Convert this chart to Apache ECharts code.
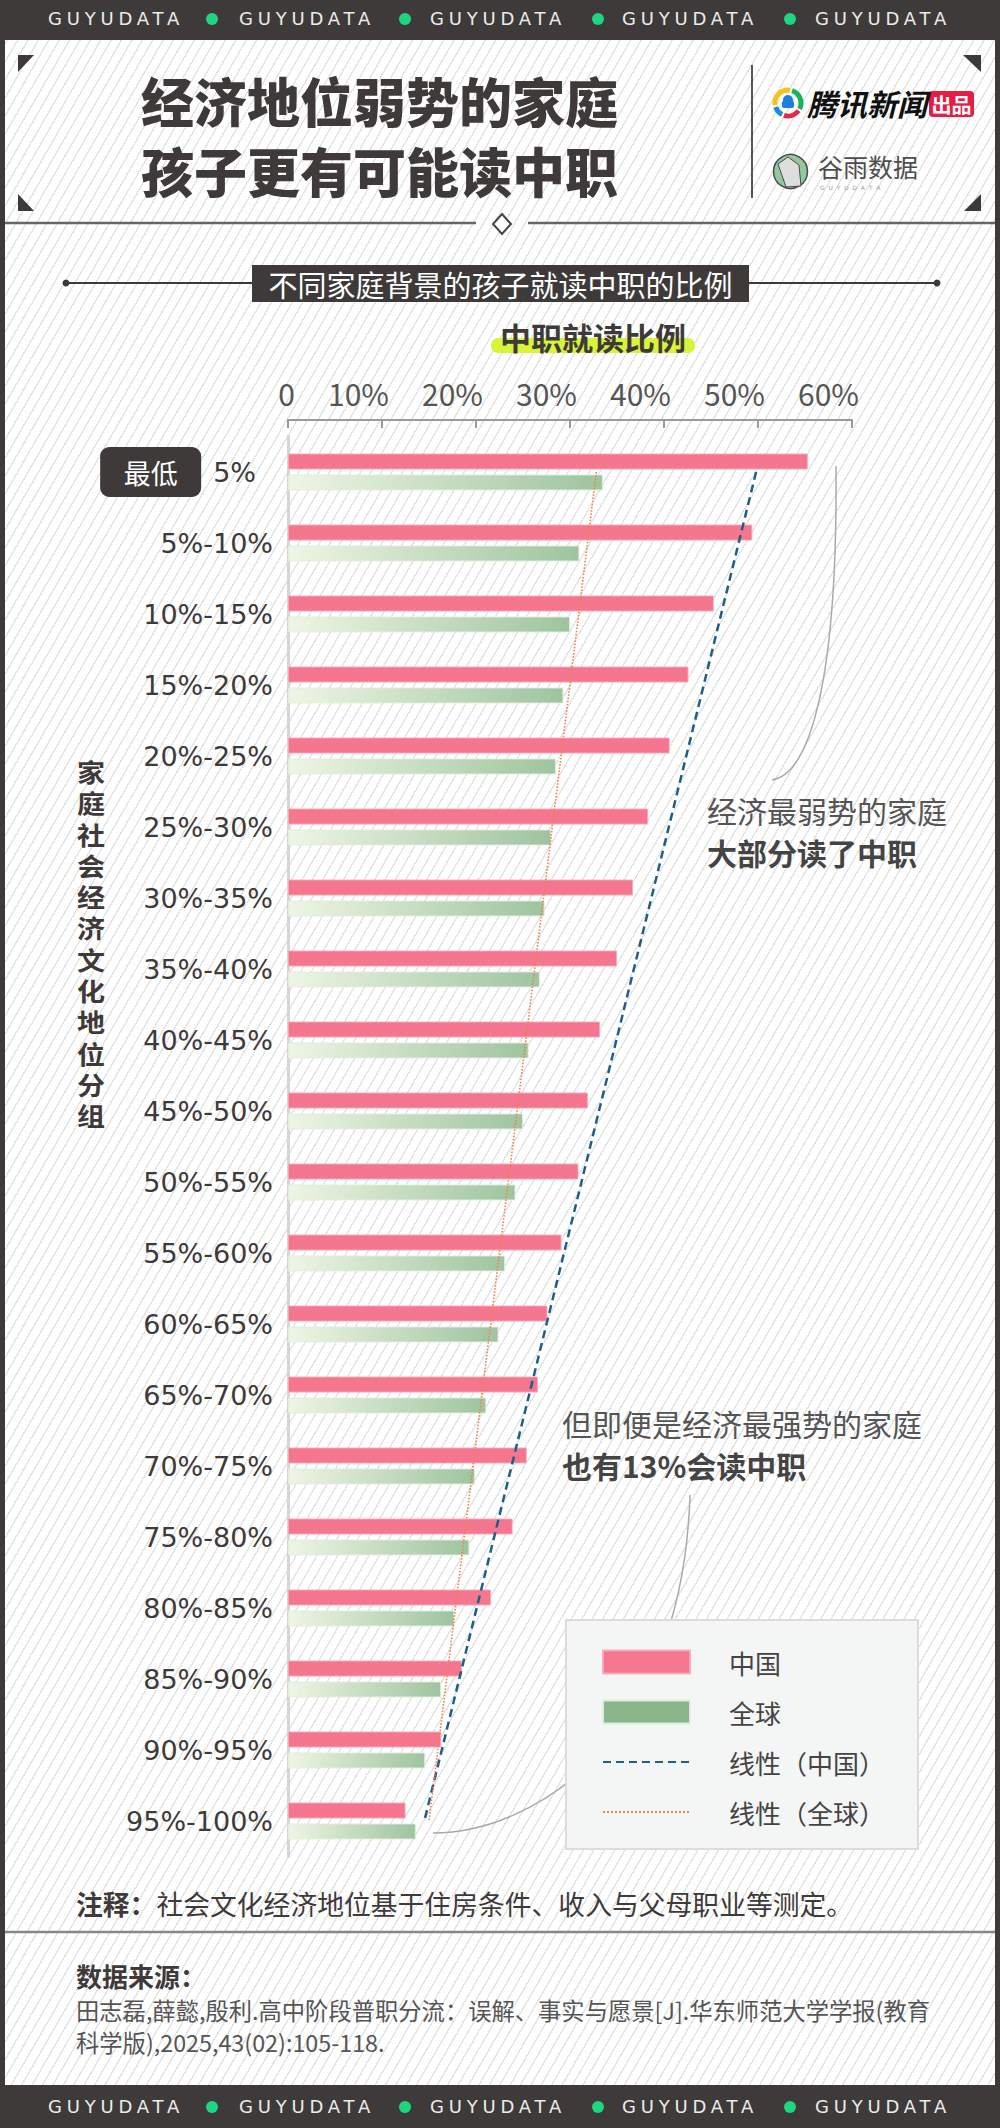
<!DOCTYPE html>
<html>
<head>
<meta charset="utf-8">
<title>经济地位弱势的家庭孩子更有可能读中职</title>
<script src="https://cdn.jsdelivr.net/npm/echarts@6/dist/echarts.min.js"></script>
<style>
  body { margin: 0; }
  #page {
    position: relative; width: 1000px; height: 2128px; overflow: hidden;
    background: repeating-linear-gradient(120deg, #ffffff 0px, #ffffff 7.6px, #e3e3e3 7.6px, #e3e3e3 9px);
  }
  #main { position: absolute; left: 0; top: 0; width: 1000px; height: 2128px; }
  .band { position: absolute; left: 0; width: 1000px; background: #3e3a39; }
  .band span.t {
    position: absolute; font-family: "DejaVu Sans", sans-serif; font-size: 18px;
    letter-spacing: 4.8px; color: #ececec; line-height: 18px;
  }
  .band span.d {
    position: absolute; width: 12px; height: 12px; border-radius: 6px; background: #1fd680;
  }
</style>
</head>
<body>
<div id="page">
  <div id="main"></div>
  <div class="band" id="topBand" style="top:0;height:40px"></div>
  <div class="band" id="bottomBand" style="top:2085px;height:43px"></div>
</div>
<script type="text/javascript">
// 数据
var categories = ['5%', '5%-10%', '10%-15%', '15%-20%', '20%-25%', '25%-30%', '30%-35%', '35%-40%',
  '40%-45%', '45%-50%', '50%-55%', '55%-60%', '60%-65%', '65%-70%', '70%-75%', '75%-80%',
  '80%-85%', '85%-90%', '90%-95%', '95%-100%'];
var chinaValues = [55.3, 49.4, 45.3, 42.6, 40.6, 38.3, 36.7, 35.0, 33.2, 31.9,
  30.9, 29.1, 27.6, 26.6, 25.4, 23.9, 21.6, 18.5, 16.3, 12.5];
var globalValues = [33.5, 31.0, 30.0, 29.3, 28.5, 28.0, 27.3, 26.8, 25.6, 25.0,
  24.2, 23.1, 22.4, 21.1, 19.9, 19.3, 17.7, 16.3, 14.6, 13.6];
// 趋势线两端（首尾分组处的取值）
var chinaTrend = [49.8, 14.5];
var globalTrend = [32.8, 15.0];
var seriesNames = ['中国', '全球', '线性（中国）', '线性（全球）'];

var CJK = 'Noto Sans CJK SC';
var DARK = '#3e3a39';

// 顶部/底部 GUYUDATA 条
function fillBand(el, top) {
  var starts = [48, 239, 430, 622, 815];
  var dots = [212, 405, 598, 790];
  var html = '';
  starts.forEach(function (x) {
    html += '<span class="t" style="left:' + x + 'px;top:' + top + 'px">GUYUDATA</span>';
  });
  dots.forEach(function (x) {
    html += '<span class="d" style="left:' + (x - 6) + 'px;top:' + (top + 3) + 'px"></span>';
  });
  el.innerHTML = html;
}
fillBand(document.getElementById('topBand'), 10);
fillBand(document.getElementById('bottomBand'), 13);

function txt(x, y, text, size, opts) {
  opts = opts || {};
  return {
    type: 'text', x: x, y: y, z: opts.z || 10, scaleX: opts.scaleX || 1,
    style: {
      text: text, fontSize: size, fontFamily: opts.family || CJK,
      fontWeight: opts.weight || 'normal', fontStyle: opts.style || 'normal',
      fill: opts.color || DARK,
      align: opts.align || 'left', textAlign: opts.align || 'left',
      verticalAlign: 'middle', textVerticalAlign: 'middle'
    }
  };
}

// 纵轴名：逐字竖排
var yNameChars = '家庭社会经济文化地位分组'.split('');
var yNameTexts = yNameChars.map(function (c, i) {
  return txt(91, 771 + i * 31.3, c, 25.5, { weight: 'bold', align: 'center', scaleX: 1.1 });
});

var graphics = [
  // 外框
  { type: 'rect', shape: { x: 0, y: 40, width: 5, height: 2045 }, style: { fill: DARK } },
  { type: 'rect', shape: { x: 995, y: 40, width: 5, height: 2045 }, style: { fill: DARK } },
  // 角标
  { type: 'polygon', shape: { points: [[18, 55], [34, 55], [18, 72]] }, style: { fill: DARK } },
  { type: 'polygon', shape: { points: [[963, 55], [981, 55], [981, 72]] }, style: { fill: DARK } },
  { type: 'polygon', shape: { points: [[18, 194], [18, 211], [34, 211]] }, style: { fill: DARK } },
  { type: 'polygon', shape: { points: [[981, 194], [981, 211], [964, 211]] }, style: { fill: DARK } },
  // 标题
  txt(141, 100, '经济地位弱势的家庭', 53, { weight: 900 }),
  txt(141, 170, '孩子更有可能读中职', 53, { weight: 900 }),
  { type: 'line', shape: { x1: 752, y1: 65, x2: 752, y2: 198 }, style: { stroke: '#555', lineWidth: 2 } },
  // 腾讯新闻 logo
  { type: 'arc', shape: { cx: 788, cy: 103, r: 13, startAngle: Math.PI * 0.95, endAngle: Math.PI * 1.55 }, style: { stroke: '#f6c21c', lineWidth: 5, fill: 'none' } },
  { type: 'arc', shape: { cx: 788, cy: 103, r: 13, startAngle: Math.PI * 1.6, endAngle: Math.PI * 2.15 }, style: { stroke: '#19b35a', lineWidth: 5, fill: 'none' } },
  { type: 'arc', shape: { cx: 788, cy: 103, r: 13, startAngle: Math.PI * 0.2, endAngle: Math.PI * 0.6 }, style: { stroke: '#e8284b', lineWidth: 5, fill: 'none' } },
  { type: 'arc', shape: { cx: 788, cy: 103, r: 13, startAngle: Math.PI * 0.65, endAngle: Math.PI * 0.9 }, style: { stroke: '#1b8be0', lineWidth: 5, fill: 'none' } },
  { type: 'circle', shape: { cx: 788, cy: 100, r: 5 }, style: { fill: '#1b7fe0' } },
  { type: 'rect', shape: { x: 782, y: 101, width: 12, height: 7, r: 2 }, style: { fill: '#1b7fe0' } },
  txt(807, 103, '腾讯新闻', 30, { weight: 'bold', style: 'italic', color: '#111' }),
  { type: 'rect', shape: { x: 929, y: 91, width: 45, height: 26, r: 4 }, style: { fill: '#e61e43' } },
  txt(951.5, 104, '出品', 20, { weight: 'bold', color: '#fff', align: 'center' }),
  // 谷雨数据 logo
  { type: 'circle', shape: { cx: 790.5, cy: 171.5, r: 17 }, style: { fill: '#93c89e', stroke: '#4a4a4a', lineWidth: 1.5 } },
  { type: 'polygon', shape: { points: [[778, 164], [788, 157], [799, 165], [801, 186], [786, 187]] }, style: { fill: '#dedede', stroke: '#4a4a4a', lineWidth: 1 } },
  txt(818, 166, '谷雨数据', 25, { color: '#4d4d4d' }),
  txt(820, 187, 'G  U  Y  U  D  A  T  A', 6, { color: '#999', family: 'DejaVu Sans' }),
  // 标题区下沿
  { type: 'line', shape: { x1: 5, y1: 223, x2: 476, y2: 223 }, style: { stroke: '#666', lineWidth: 2.5 } },
  { type: 'line', shape: { x1: 528, y1: 223, x2: 995, y2: 223 }, style: { stroke: '#666', lineWidth: 2.5 } },
  { type: 'polygon', shape: { points: [[502, 214], [511, 224], [502, 234], [493, 224]] }, style: { fill: '#fff', stroke: '#444', lineWidth: 2 } },
  // 副标题
  { type: 'line', shape: { x1: 66, y1: 283, x2: 937, y2: 283 }, style: { stroke: DARK, lineWidth: 2 } },
  { type: 'circle', shape: { cx: 66, cy: 283, r: 3.5 }, style: { fill: DARK } },
  { type: 'circle', shape: { cx: 937, cy: 283, r: 3.5 }, style: { fill: DARK } },
  { type: 'rect', shape: { x: 252, y: 265, width: 497, height: 37 }, style: { fill: DARK } },
  txt(500.5, 283.5, '不同家庭背景的孩子就读中职的比例', 29, { color: '#fff', align: 'center' }),
  // 坐标轴标题
  { type: 'rect', shape: { x: 491, y: 338, width: 204, height: 15, r: 7 }, style: { fill: '#d9f23a' } },
  txt(593, 336, '中职就读比例', 31, { weight: 'bold', align: 'center' }),
  // 注释曲线与文字
  { type: 'bezierCurve', z: 0, shape: { x1: 836, y1: 466, cpx1: 838, cpy1: 700, cpx2: 805, cpy2: 775, x2: 772, y2: 780 }, style: { stroke: '#aaa', lineWidth: 1.5, fill: 'none' } },
  txt(707, 810, '经济最弱势的家庭', 30, { color: '#555' }),
  txt(707, 852, '大部分读了中职', 30, { weight: 'bold', color: '#444' }),
  { type: 'bezierCurve', z: 0, shape: { x1: 690, y1: 1495, cpx1: 682, cpy1: 1745, cpx2: 530, cpy2: 1833, x2: 433, y2: 1833 }, style: { stroke: '#aaa', lineWidth: 1.5, fill: 'none' } },
  txt(562, 1423, '但即便是经济最强势的家庭', 30, { color: '#555' }),
  txt(562, 1465, '也有13%会读中职', 30, { weight: 'bold', color: '#444' }),
  // 脚注
  txt(76, 1903, '注释：', 26.8, { weight: 'bold' }),
  txt(156.4, 1903, '社会文化经济地位基于住房条件、收入与父母职业等测定。', 26.8),
  { type: 'line', shape: { x1: 5, y1: 1932, x2: 995, y2: 1932 }, style: { stroke: '#888', lineWidth: 2.5 } },
  txt(76, 1975, '数据来源：', 26, { weight: 'bold' }),
  txt(76, 2010, '田志磊,薛懿,殷利.高中阶段普职分流：误解、事实与愿景[J].华东师范大学学报(教育', 23.3, { color: '#555' }),
  txt(76, 2042, '科学版),2025,43(02):105-118.', 23.3, { color: '#555' })
].concat(yNameTexts);

var myChart = echarts.init(document.getElementById('main'), null, { renderer: 'svg' });

myChart.setOption({
  backgroundColor: 'transparent',
  animation: false,
  grid: { left: 288, right: 148, top: 436.5, bottom: 271.5, containLabel: false },
  legend: {
    orient: 'vertical', left: 566, top: 1620,
    backgroundColor: '#f4f6f5', borderColor: '#dcdcdc', borderWidth: 2,
    padding: [29, 33, 24, 36], itemWidth: 87, itemHeight: 23, itemGap: 24,
    textStyle: { fontSize: 26, color: '#444', fontFamily: CJK, padding: [0, 0, 0, 34] },
    data: [
      { name: seriesNames[0], icon: 'rect' },
      { name: seriesNames[1], icon: 'rect', itemStyle: { color: '#80b180' } },
      { name: seriesNames[2], itemStyle: { opacity: 0 } },
      { name: seriesNames[3], itemStyle: { opacity: 0 } }
    ]
  },
  xAxis: {
    type: 'value', position: 'top', offset: 16.5,
    min: 0, max: 60, interval: 10,
    axisLine: { show: true, lineStyle: { color: '#9a9a9a', width: 2 } },
    axisTick: { show: true, inside: true, length: 8, lineStyle: { color: '#9a9a9a', width: 2 } },
    splitLine: { show: false },
    axisLabel: {
      formatter: function (v) { return v === 0 ? '0' : v + '%'; },
      fontSize: 30, color: '#555', fontFamily: CJK, margin: 12,
      align: 'right', padding: [0, -7, 0, 0]
    }
  },
  yAxis: {
    type: 'category', inverse: true, data: categories,
    axisLine: { show: true, lineStyle: { color: '#d6d6d6', width: 3 } },
    axisTick: { show: false },
    axisLabel: {
      fontSize: 27, fontFamily: 'DejaVu Sans', color: DARK, margin: 15,
      formatter: function (v, i) {
        return i === 0 ? '{badge|最低}{first|' + v + '}' : v;
      },
      rich: {
        badge: {
          backgroundColor: DARK, color: '#fff', borderRadius: 9, width: 101, height: 50,
          align: 'center', fontSize: 27, fontFamily: CJK
        },
        first: { fontSize: 27, fontFamily: 'DejaVu Sans', color: DARK, padding: [0, 17, 0, 12] }
      }
    }
  },
  series: [
    {
      name: seriesNames[0], type: 'bar', data: chinaValues,
      barWidth: 16, barGap: '31%',
      itemStyle: { color: '#f36c86', borderColor: '#f8a9b7', borderWidth: 1, opacity: 0.93 }
    },
    {
      name: seriesNames[1], type: 'bar', data: globalValues,
      barWidth: 16,
      itemStyle: {
        color: new echarts.graphic.LinearGradient(0, 0, 1, 0, [
          { offset: 0, color: '#eef5e3' },
          { offset: 1, color: '#97c098' }
        ]),
        borderColor: '#e2eedb', borderWidth: 1, opacity: 0.93
      }
    },
    {
      name: seriesNames[2], type: 'line', symbol: 'none', z: 5,
      data: [[chinaTrend[0], categories[0]], [chinaTrend[1], categories[categories.length - 1]]],
      lineStyle: { color: '#1d5f89', width: 2.5, type: [8, 5] }, itemStyle: { color: '#1d5f89' }
    },
    {
      name: seriesNames[3], type: 'line', symbol: 'none', z: 5,
      data: [[globalTrend[0], categories[0]], [globalTrend[1], categories[categories.length - 1]]],
      lineStyle: { color: '#f0804f', width: 1.6, type: 'dotted' }, itemStyle: { color: '#f0804f' }
    }
  ],
  graphic: { elements: graphics }
});
</script>
</body>
</html>
